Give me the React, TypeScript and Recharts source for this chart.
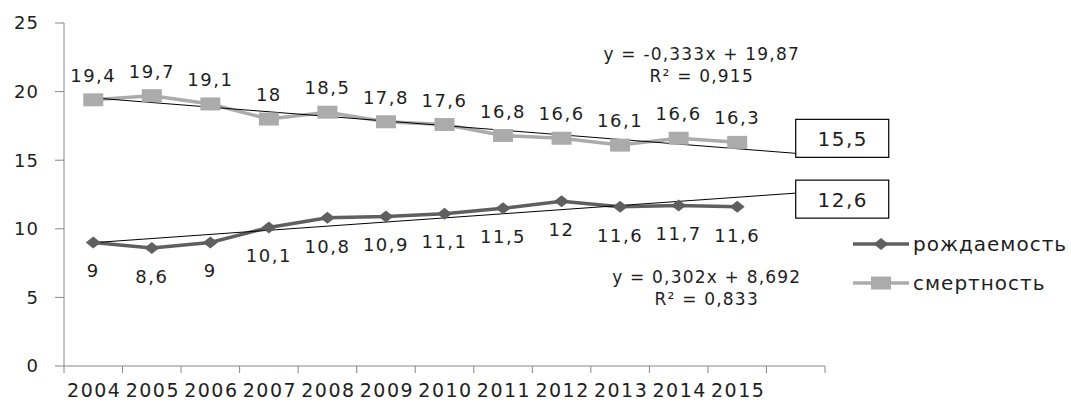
import { ComposedChart, Line, XAxis, YAxis, LabelList } from "recharts";

const years = ["2004", "2005", "2006", "2007", "2008", "2009", "2010", "2011", "2012", "2013", "2014", "2015", ""];
const birthRate = [9, 8.6, 9, 10.1, 10.8, 10.9, 11.1, 11.5, 12, 11.6, 11.7, 11.6, null];
const deathRate = [19.4, 19.7, 19.1, 18, 18.5, 17.8, 17.6, 16.8, 16.6, 16.1, 16.6, 16.3, null];
// linear trends, only the two ends are drawn (2004 and the 2016 forecast)
const birthTrend = [8.99, null, null, null, null, null, null, null, null, null, null, null, 12.6];
const deathTrend = [19.54, null, null, null, null, null, null, null, null, null, null, null, 15.5];
const yTicks = [0, 5, 10, 15, 20, 25];

const birthName = "рождаемость";
const deathName = "смертность";
const birthEq = ["y = 0,302x + 8,692", "R² = 0,833"];
const deathEq = ["y = -0,333x + 19,87", "R² = 0,915"];

const data = years.map((year, i) => ({
  year,
  birth: birthRate[i],
  death: deathRate[i],
  birthTrend: birthTrend[i],
  deathTrend: deathTrend[i],
}));

const W = 1071;
const H = 403;
const MARGIN = { top: 23, right: 246, bottom: 7, left: 20 };
const Y_AXIS_W = 44;
const BAND = (W - MARGIN.left - MARGIN.right - Y_AXIS_W) / years.length;

const FONT = "'DejaVu Sans', Verdana, sans-serif";
const TEXT = "#1e1e1e";
const AXIS = "#868686";
const BIRTH = "#5f5f5f";
const DEATH = "#ababab";

const fmt = (v: any) => (v == null ? "" : String(v).replace(".", ","));

function XTick(props: any) {
  const { x, y, payload, index } = props;
  const left = x - BAND / 2;
  return (
    <g>
      <line x1={left} x2={left} y1={y} y2={y + 7} stroke={AXIS} />
      {index === years.length - 1 && (
        <line x1={x + BAND / 2} x2={x + BAND / 2} y1={y} y2={y + 7} stroke={AXIS} />
      )}
      <text x={x + 1} y={y + 31} textAnchor="middle" fontSize={19} letterSpacing={1.5} fill={TEXT} fontFamily={FONT}>
        {payload.value}
      </text>
    </g>
  );
}

function SquareDot(props: any) {
  const { cx, cy } = props;
  if (cx == null || cy == null) return null;
  return <rect x={cx - 10} y={cy - 6.5} width={20} height={13} fill={DEATH} />;
}

function DiamondDot(props: any) {
  const { cx, cy } = props;
  if (cx == null || cy == null) return null;
  return <path d={`M${cx - 7.5},${cy} L${cx},${cy - 6} L${cx + 7.5},${cy} L${cx},${cy + 6} Z`} fill={BIRTH} />;
}

// box with the 2016 forecast value, plus the trend equation
function boxed(boxTop: number, eq: string[], eqDx: number, eqDy: number) {
  return (props: any) => {
    const { x, y, index, value } = props;
    if (index !== years.length - 1) return null;
    return (
      <g fontFamily={FONT} fill={TEXT}>
        <rect x={x} y={y + boxTop} width={93} height={38} fill="#fff" stroke="#000" strokeWidth={1.2} />
        <text x={x + 47} y={y + boxTop + 27} textAnchor="middle" fontSize={20} letterSpacing={1.5}>
          {fmt(value)}
        </text>
        <text x={x + eqDx} y={y + eqDy} textAnchor="middle" fontSize={17} letterSpacing={1.2}>
          {eq[0]}
        </text>
        <text x={x + eqDx} y={y + eqDy + 22} textAnchor="middle" fontSize={17} letterSpacing={1.2}>
          {eq[1]}
        </text>
      </g>
    );
  };
}

function LegendItem({ color, square, label }: { color: string; square: boolean; label: string }) {
  return (
    <div style={{ display: "flex", alignItems: "center", height: 39 }}>
      <svg width={58} height={16}>
        <line x1={0} x2={56} y1={8} y2={8} stroke={color} strokeWidth={3.5} />
        {square ? (
          <rect x={18} y={1.5} width={20} height={13} fill={color} />
        ) : (
          <path d="M20.5,8 L28,2 L35.5,8 L28,14 Z" fill={color} />
        )}
      </svg>
      <span style={{ fontSize: 20, letterSpacing: 1, color: TEXT, fontFamily: FONT, marginLeft: 2 }}>{label}</span>
    </div>
  );
}

export default function App() {
  return (
    <div style={{ position: "absolute", left: 0, top: 0, width: W, height: H, background: "#fff" }}>
      <ComposedChart width={W} height={H} data={data} margin={MARGIN}>
        <XAxis
          dataKey="year"
          scale="band"
          height={30}
          axisLine={{ stroke: AXIS }}
          tickLine={false}
          tickSize={0}
          tickMargin={0}
          interval={0}
          tick={<XTick />}
        />
        <YAxis
          width={Y_AXIS_W}
          domain={[0, 25]}
          ticks={yTicks}
          interval={0}
          axisLine={{ stroke: AXIS }}
          tickLine={{ stroke: AXIS }}
          tickSize={9}
          tickMargin={16}
          tick={{ fontSize: 18, letterSpacing: 1, fill: TEXT, fontFamily: FONT }}
        />
        <Line
          dataKey="death"
          stroke={DEATH}
          strokeWidth={3.5}
          dot={<SquareDot />}
          activeDot={false}
          isAnimationActive={false}
        >
          <LabelList
            dataKey="death"
            position="top"
            offset={18}
            formatter={fmt}
            style={{ fontSize: 18, letterSpacing: 1.5, fill: TEXT, fontFamily: FONT }}
          />
        </Line>
        <Line
          dataKey="birth"
          stroke={BIRTH}
          strokeWidth={3.5}
          dot={<DiamondDot />}
          activeDot={false}
          isAnimationActive={false}
        >
          <LabelList
            dataKey="birth"
            position="bottom"
            offset={22}
            formatter={fmt}
            style={{ fontSize: 18, letterSpacing: 1.5, fill: TEXT, fontFamily: FONT }}
          />
        </Line>
        <Line
          dataKey="deathTrend"
          stroke="#000"
          strokeWidth={1}
          dot={false}
          activeDot={false}
          connectNulls
          isAnimationActive={false}
        >
          <LabelList dataKey="deathTrend" content={boxed(-34, deathEq, -94, -93)} />
        </Line>
        <Line
          dataKey="birthTrend"
          stroke="#000"
          strokeWidth={1}
          dot={false}
          activeDot={false}
          connectNulls
          isAnimationActive={false}
        >
          <LabelList dataKey="birthTrend" content={boxed(-13, birthEq, -89, 90)} />
        </Line>
      </ComposedChart>
      <div style={{ position: "absolute", left: 853, top: 224 }}>
        <LegendItem color={BIRTH} square={false} label={birthName} />
        <LegendItem color={DEATH} square={true} label={deathName} />
      </div>
    </div>
  );
}
